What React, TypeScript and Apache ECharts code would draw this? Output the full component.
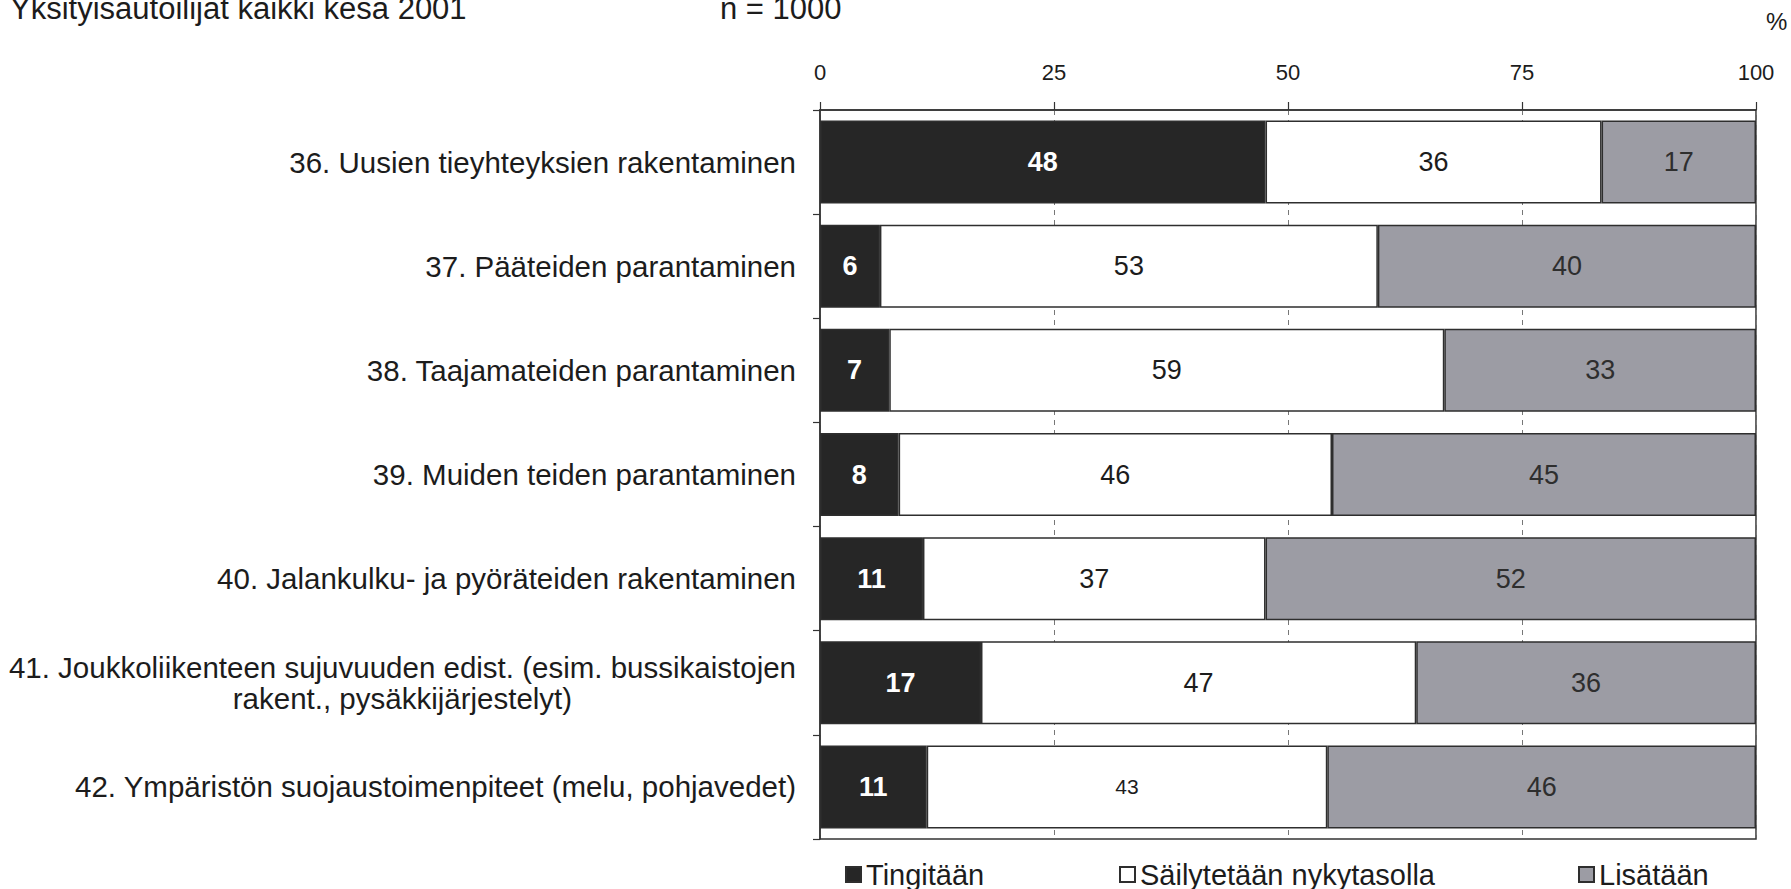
import React, { useEffect, useRef } from "react";
import * as echarts from "echarts";

const categories = [
  "36. Uusien tieyhteyksien rakentaminen",
  "37. Pääteiden parantaminen",
  "38. Taajamateiden parantaminen",
  "39. Muiden teiden parantaminen",
  "40. Jalankulku- ja pyöräteiden rakentaminen",
  "41. Joukkoliikenteen sujuvuuden edist. (esim. bussikaistojen\nrakent., pysäkkijärjestelyt)",
  "42. Ympäristön suojaustoimenpiteet (melu, pohjavedet)",
];

const seriesNames = ["Tingitään", "Säilytetään nykytasolla", "Lisätään"];

const tingitaan = [47.6, 6.4, 7.4, 8.4, 11.0, 17.2, 11.4];
const sailytetaan = [35.9, 53.2, 59.3, 46.3, 36.6, 46.5, 42.8];
const lisataan = [16.5, 40.4, 33.3, 45.3, 52.4, 36.3, 45.8];

const xMin = 0;
const xMax = 100;
const xStep = 25;

const titleText = "Yksityisautoilijat kaikki kesä 2001";
const sampleText = "n = 1000";
const unitText = "%";

const FONT = "'Liberation Sans', Arial, sans-serif";
const INK = "#1c1c1c";

export default function App() {
  const ref = useRef<HTMLDivElement>(null);

  useEffect(() => {
    if (!ref.current) return;
    const chart = echarts.init(ref.current, undefined, { renderer: "svg" });

    const barBorder = { borderColor: "#2e2e2e", borderWidth: 1.5 };
    const fmt = (p: any) => String(Math.round(p.value));
    const legendBase = {
      top: 860,
      padding: 0,
      icon: "rect",
      itemWidth: 15,
      itemHeight: 15,
      textStyle: { fontSize: 29, color: INK, fontFamily: FONT },
    };

    const option: any = {
      animation: false,
      backgroundColor: "#ffffff",
      textStyle: { fontFamily: FONT, color: INK },
      grid: {
        left: 820,
        right: 35,
        top: 110,
        bottom: 50,
        show: true,
        borderColor: "#333333",
        borderWidth: 1.5,
        backgroundColor: "transparent",
        containLabel: false,
        outerBoundsMode: "none",
      },
      xAxis: {
        type: "value",
        position: "top",
        min: xMin,
        max: xMax,
        interval: xStep,
        axisLine: { show: true, lineStyle: { color: "#333333", width: 1.5 } },
        axisTick: { show: true, length: 8, lineStyle: { color: "#333333", width: 1.2 } },
        axisLabel: { fontSize: 22, color: INK, margin: 27, fontFamily: FONT },
        splitLine: { show: true, lineStyle: { type: [5, 5], color: "#777777", width: 1 } },
      },
      yAxis: {
        type: "category",
        inverse: true,
        data: categories,
        axisLine: { show: true, lineStyle: { color: "#333333", width: 1.5 } },
        axisTick: { show: true, length: 7, lineStyle: { color: "#333333", width: 1.2 } },
        axisLabel: {
          fontSize: 29.5,
          color: INK,
          margin: 24,
          fontFamily: FONT,
          lineHeight: 31,
          formatter: (v: string) => {
            if (v.indexOf("\n") < 0) return v;
            const lines = v.split("\n");
            return lines.map((l, i) => (i === 0 ? `{a|${l}}` : `{c|${l}}`)).join("\n");
          },
          rich: {
            a: { fontSize: 29.5, color: INK, fontFamily: FONT, lineHeight: 31 },
            c: { fontSize: 29.5, color: INK, fontFamily: FONT, lineHeight: 31, align: "center" },
          },
        },
        splitLine: { show: false },
      },
      legend: [
        { ...legendBase, data: [seriesNames[0]], left: 845 },
        { ...legendBase, data: [seriesNames[1]], left: 1119 },
        { ...legendBase, data: [seriesNames[2]], left: 1578 },
      ],
      series: [
        {
          name: seriesNames[0],
          type: "bar",
          stack: "total",
          barWidth: 83,
          data: tingitaan,
          itemStyle: { color: "#262626", ...barBorder },
          label: {
            show: true,
            position: "inside",
            formatter: fmt,
            fontSize: 27,
            fontWeight: "bold",
            color: "#ffffff",
            fontFamily: FONT,
          },
        },
        {
          name: seriesNames[1],
          type: "bar",
          stack: "total",
          barWidth: 83,
          data: sailytetaan.map((v, i) =>
            i === sailytetaan.length - 1 ? { value: v, label: { fontSize: 21 } } : v
          ),
          itemStyle: { color: "#ffffff", ...barBorder },
          label: {
            show: true,
            position: "inside",
            formatter: fmt,
            fontSize: 27,
            color: INK,
            fontFamily: FONT,
          },
        },
        {
          name: seriesNames[2],
          type: "bar",
          stack: "total",
          barWidth: 83,
          data: lisataan,
          itemStyle: { color: "#9c9ca4", ...barBorder },
          label: {
            show: true,
            position: "inside",
            formatter: fmt,
            fontSize: 27,
            color: "#2e2e2e",
            fontFamily: FONT,
          },
        },
      ],
      graphic: [
        {
          type: "text",
          left: 10,
          top: -7,
          style: { text: titleText, fontSize: 31, fill: INK, fontFamily: FONT },
        },
        {
          type: "text",
          left: 720,
          top: -7,
          style: { text: sampleText, fontSize: 31, fill: INK, fontFamily: FONT },
        },
        {
          type: "text",
          left: 1766,
          top: 9,
          style: { text: unitText, fontSize: 24, fill: INK, fontFamily: FONT },
        },
      ],
    };

    chart.setOption(option);
    return () => chart.dispose();
  }, []);

  return (
    <div
      ref={ref}
      style={{ position: "fixed", left: 0, top: 0, width: 1791, height: 889, background: "#fff" }}
    />
  );
}
